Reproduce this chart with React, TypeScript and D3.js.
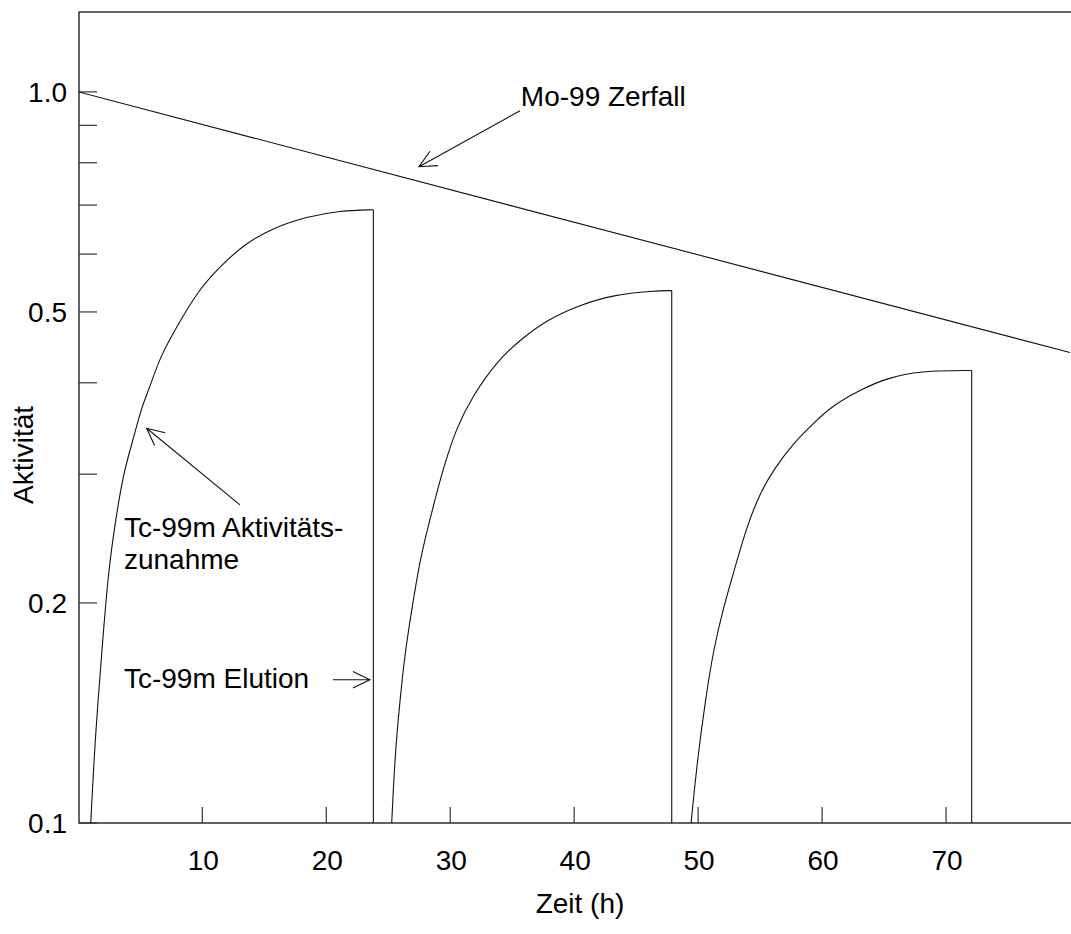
import React from "react";
import * as d3 from "d3";

// Mo-99 parent activity (straight on the log axis)
const moDecay: [number, number][] = [[0, 1.0], [80, 0.44]];

// Tc-99m build-up between elutions [hours, activity]
const tcGrowth1: [number, number][] = [
  [1.0, 0.1], [1.34, 0.13], [2.01, 0.182], [2.42, 0.22], [2.96, 0.257], [3.63, 0.301],
  [4.43, 0.335], [5.11, 0.371], [5.78, 0.395], [6.59, 0.434], [7.93, 0.477], [9.55, 0.531],
  [11.16, 0.571], [13.31, 0.618], [15.73, 0.652], [18.42, 0.675], [21.11, 0.688], [23.8, 0.69],
];
const tcGrowth2: [number, number][] = [
  [25.28, 0.1], [25.55, 0.1245], [25.95, 0.1473], [26.35, 0.1707], [26.89, 0.1956], [27.56, 0.229],
  [28.23, 0.2548], [29.31, 0.301], [30.52, 0.3484], [31.86, 0.385], [33.75, 0.4277], [35.63, 0.4577],
  [37.79, 0.4877], [40.47, 0.5113], [43.16, 0.5277], [46.39, 0.5343], [47.87, 0.5348],
];
const tcGrowth3: [number, number][] = [
  [49.43, 0.1], [49.94, 0.122], [50.58, 0.147], [51.23, 0.1724], [52.03, 0.1967], [52.84, 0.2196],
  [53.92, 0.2543], [54.99, 0.2825], [56.07, 0.304], [57.68, 0.3307], [59.29, 0.3521], [60.91, 0.373],
  [63.06, 0.3912], [65.22, 0.4059], [67.9, 0.4154], [72.07, 0.4158],
];
const tcCycles = [tcGrowth1, tcGrowth2, tcGrowth3];

const xTicks = [10, 20, 30, 40, 50, 60, 70];
const yLabelTicks = [0.1, 0.2, 0.5, 1.0];
const yMinorTicks = [0.3, 0.4, 0.6, 0.7, 0.8, 0.9];

// annotations in data coordinates
const labels = [
  { text: ["Mo-99 Zerfall"], at: [35.7, 0.957] },
  { text: ["Tc-99m Aktivitäts-", "zunahme"], at: [3.68, 0.246] },
  { text: ["Tc-99m Elution"], at: [3.68, 0.153] },
];
const arrows = [
  { from: [35.63, 0.942], to: [27.48, 0.79] },
  { from: [13.04, 0.2723], to: [5.51, 0.3467] },
  { from: [20.54, 0.157], to: [23.53, 0.157] },
];

const W = 1071;
const H = 934;
const left = 79;
const top = 12;
const bottom = 823;
const font = "'Liberation Sans', Arial, sans-serif";
const fs = 28;

export default function App() {
  const x = d3.scaleLinear().domain([0, 80]).range([78.35, 1070]);
  const y = d3.scaleLog().domain([0.1, 1.286]).range([bottom, top]);

  const line = d3.line<[number, number]>().x(d => x(d[0])).y(d => y(d[1]));
  // smooth through the hand-read points
  const growth = d3.line<[number, number]>().x(d => x(d[0])).y(d => y(d[1])).curve(d3.curveBasis);

  const arrowPath = (a: { from: number[]; to: number[] }) => {
    const x0 = x(a.from[0]), y0 = y(a.from[1]);
    const x1 = x(a.to[0]), y1 = y(a.to[1]);
    const ang = Math.atan2(y0 - y1, x0 - x1);
    const len = 19, spread = 0.45;
    const b1 = [x1 + len * Math.cos(ang - spread), y1 + len * Math.sin(ang - spread)];
    const b2 = [x1 + len * Math.cos(ang + spread), y1 + len * Math.sin(ang + spread)];
    return `M${x0},${y0}L${x1},${y1}M${b1[0]},${b1[1]}L${x1},${y1}L${b2[0]},${b2[1]}`;
  };

  return (
    <svg width={W} height={H} style={{ position: "absolute", left: 0, top: 0, background: "#fff" }}
      fontFamily={font} fontSize={fs}>
      <defs>
        <clipPath id="plot">
          <rect x={left} y={top} width={W - left + 5} height={bottom - top} />
        </clipPath>
      </defs>

      {/* frame */}
      <rect x={left} y={top} width={W - left + 5} height={bottom - top} fill="none" stroke="#222" strokeWidth={1.4} />

      {/* y ticks */}
      {[...yLabelTicks, ...yMinorTicks].map(v => (
        <line key={"yt" + v} x1={left} x2={left + 18} y1={y(v)} y2={y(v)} stroke="#333" strokeWidth={1.2} />
      ))}
      {yLabelTicks.map(v => (
        <text key={"yl" + v} x={67} y={y(v)} dy="0.36em" textAnchor="end">{v.toFixed(1)}</text>
      ))}

      {/* x ticks */}
      {xTicks.map(t => (
        <g key={"xt" + t}>
          <line x1={x(t)} x2={x(t)} y1={bottom} y2={bottom - 16} stroke="#333" strokeWidth={1.2} />
          <text x={x(t) + 1} y={bottom + 47} textAnchor="middle">{t}</text>
        </g>
      ))}

      <text x={580} y={913} textAnchor="middle">Zeit (h)</text>
      <text transform={`translate(33,455) rotate(-90)`} textAnchor="middle">Aktivität</text>

      <g clipPath="url(#plot)" fill="none" stroke="#111" strokeWidth={1.1}>
        <path d={line(moDecay) || ""} />
        {tcCycles.map((c, i) => {
          const last = c[c.length - 1];
          return (
            <g key={"c" + i}>
              <path d={growth(c) || ""} />
              <path d={line([last, [last[0], 0.1]]) || ""} />
            </g>
          );
        })}
      </g>

      {/* annotations */}
      {labels.map((l, i) => (
        <text key={"lb" + i} x={x(l.at[0])} y={y(l.at[1])}>
          {l.text.map((s, j) => (
            <tspan key={j} x={x(l.at[0])} dy={j === 0 ? 0 : 32}>{s}</tspan>
          ))}
        </text>
      ))}
      {arrows.map((a, i) => (
        <path key={"ar" + i} d={arrowPath(a)} fill="none" stroke="#111" strokeWidth={1.1} />
      ))}
    </svg>
  );
}
